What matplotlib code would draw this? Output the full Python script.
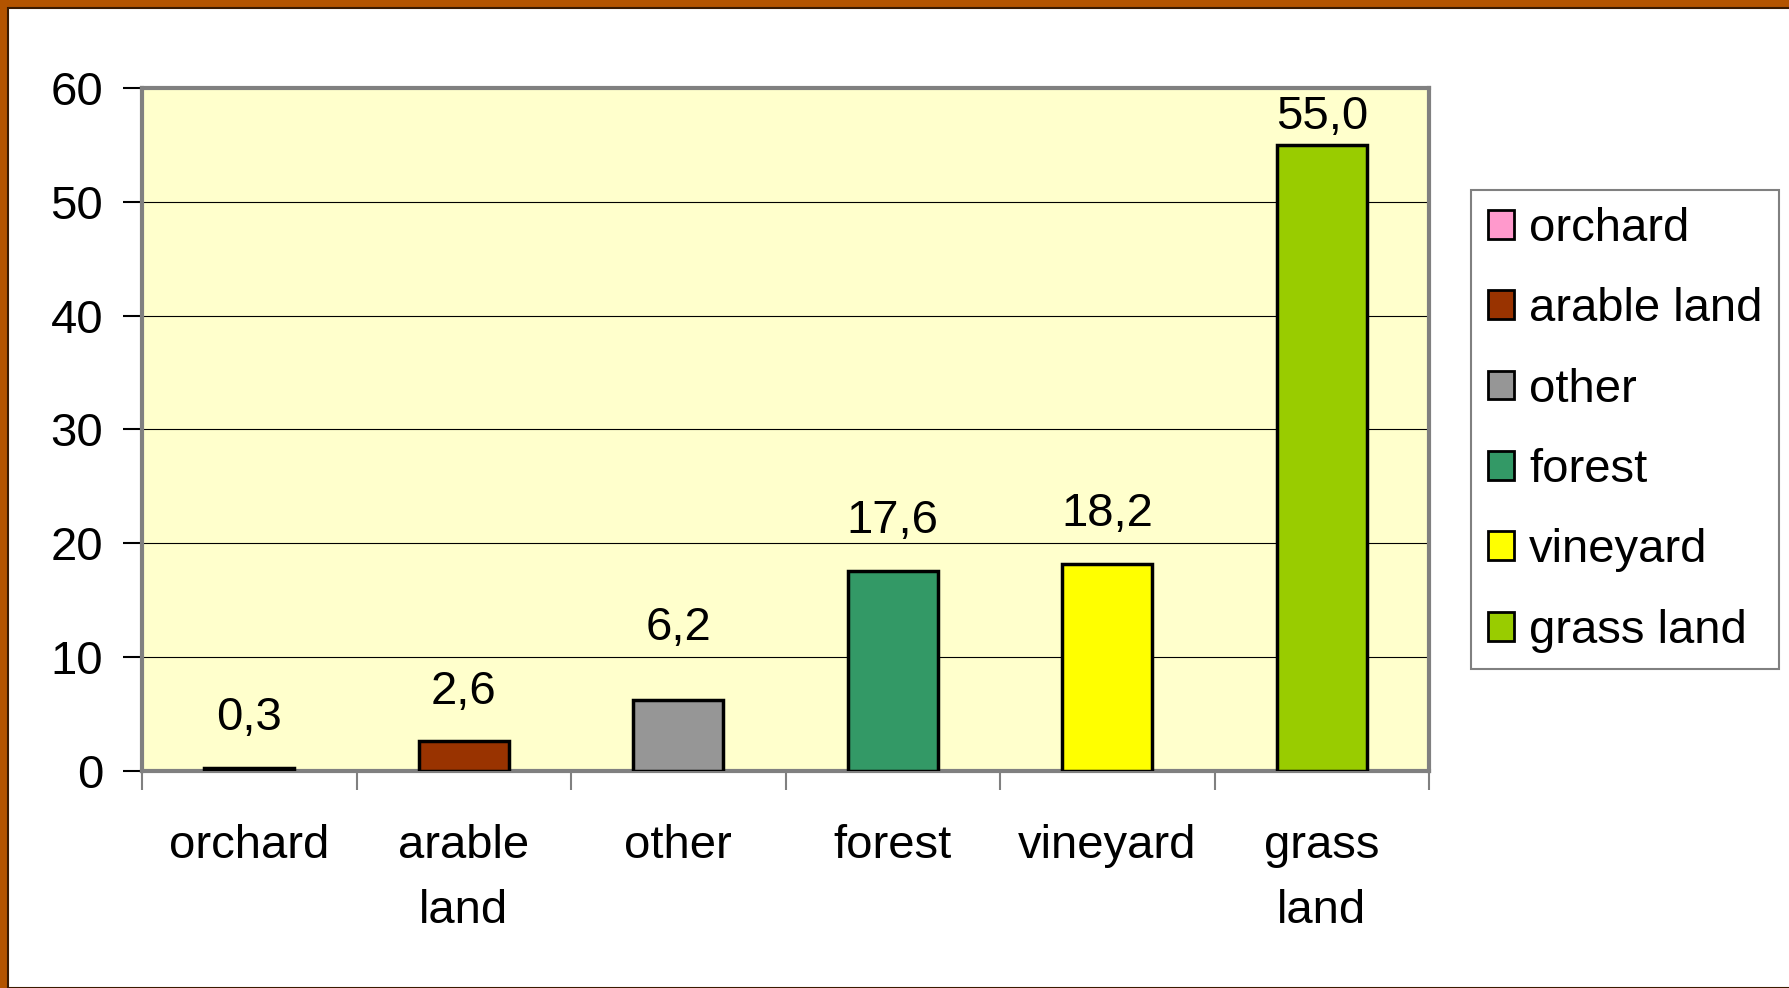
import matplotlib.pyplot as plt
from matplotlib.patches import Rectangle, Patch

categories = ['orchard', 'arable land', 'other', 'forest', 'vineyard', 'grass land']
tick_labels = ['orchard', 'arable\nland', 'other', 'forest', 'vineyard', 'grass\nland']
values = [0.3, 2.6, 6.2, 17.6, 18.2, 55.0]
colors = ['#ff99cc', '#993300', '#969696', '#339966', '#ffff00', '#99cc00']

plt.rcParams['font.family'] = ['Liberation Sans', 'DejaVu Sans']
fs = 34

fig = plt.figure(figsize=(17.89, 9.88), dpi=100)
fig.patch.set_facecolor('#b35400')
# white slide panel with brown border on the left and top
panel = Rectangle((8 / 1789, 0), 1, 1 - 8 / 988, transform=fig.transFigure,
                  facecolor='white', edgecolor='#3a1a00', linewidth=1.5, zorder=-5)
fig.add_artist(panel)

ax = fig.add_axes([0.0794, 0.2196, 0.7194, 0.6914])
ax.set_facecolor('#ffffcc')

x = range(len(values))
bars = ax.bar(x, values, width=0.42, color=colors, edgecolor='black', linewidth=2.5, zorder=3)

# offset of each value label above its bar (points), as placed in the original
label_offsets = [20, 20, 36, 20, 20, 4]
for xi, v, off in zip(x, values, label_offsets):
    ax.annotate(f'{v:.1f}'.replace('.', ','), (xi, v), xytext=(0, off), textcoords='offset points',
                ha='center', va='bottom', fontsize=fs)

ax.set_xlim(-0.5, len(values) - 0.5)
ax.set_ylim(0, 60)
ax.set_yticks(range(0, 61, 10))
ax.yaxis.grid(True, color='black', linewidth=0.8, zorder=1)
ax.set_axisbelow(True)

ax.set_xticks([i + 0.5 for i in range(-1, len(values))])
ax.set_xticklabels([])
ax.set_xticks(list(x), minor=True)
ax.set_xticklabels(tick_labels, minor=True, fontsize=fs, linespacing=1.62)
ax.tick_params(axis='x', which='major', length=14, width=1.5, color='#808080', direction='out')
ax.tick_params(axis='x', which='minor', length=0, pad=38)
ax.tick_params(axis='y', length=14, width=1.5, color='black', labelsize=fs, pad=14)

for side in ['left', 'right', 'top', 'bottom']:
    ax.spines[side].set_color('#808080')
    ax.spines[side].set_linewidth(3)

handles = [Patch(facecolor=c, edgecolor='black', linewidth=2) for c in colors]
leg = fig.legend(handles, categories, loc='upper left', bbox_to_anchor=(1471 / 1789, 1 - 190.5 / 988),
                 fontsize=fs, frameon=True, fancybox=False, handlelength=0.56, handleheight=0.56,
                 handletextpad=0.32, labelspacing=0.77, borderpad=0.35, borderaxespad=0)
leg.get_frame().set_edgecolor('#606060')
leg.get_frame().set_linewidth(1.5)

fig.savefig('out.png', dpi=100, facecolor=fig.get_facecolor())
